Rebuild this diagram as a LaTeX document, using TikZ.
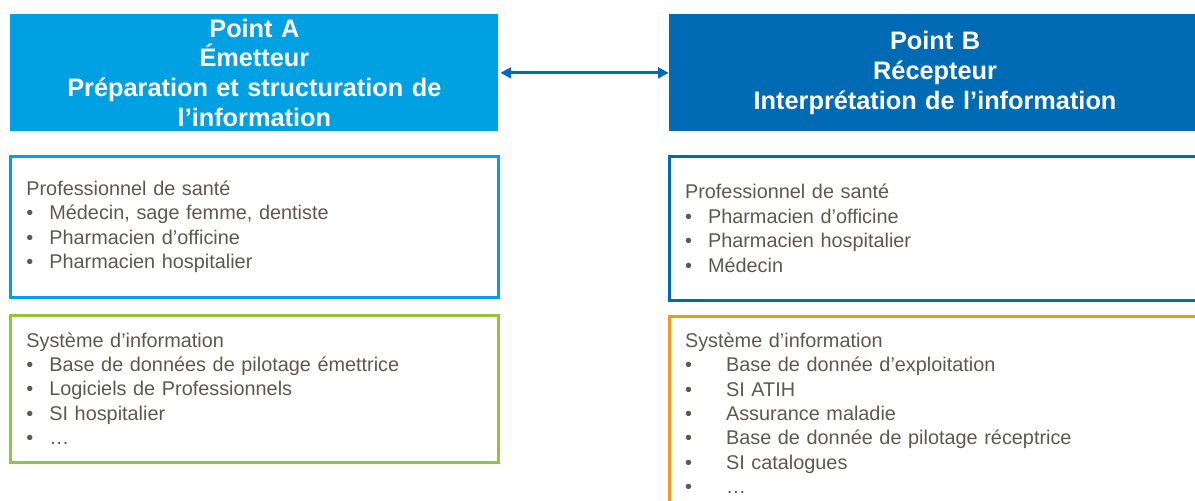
\documentclass[tikz,border=0pt]{standalone}
\usepackage{fontspec}
\setmainfont{Liberation Sans}
\usetikzlibrary{positioning, arrows.meta}

\definecolor{bleuA}{RGB}{0,160,226}
\definecolor{bleuB}{RGB}{0,106,180}
\definecolor{vertSI}{RGB}{146,196,64}
\definecolor{orangeSI}{RGB}{247,150,30}
\definecolor{grisTxt}{RGB}{92,88,84}

\newcommand{\puce}[1]{\makebox[0.46cm][l]{\textbullet}#1}
\newcommand{\pucelarge}[1]{\makebox[0.82cm][l]{\textbullet}#1}

\begin{document}
\begin{tikzpicture}[
        node distance=0.46cm,
        titre/.style={
            rectangle,
            text=white,
            font=\fontsize{14.4}{17}\selectfont\bfseries,
            align=center,
            minimum height=2.34cm,
            inner sep=0pt
        },
        liste/.style={
            rectangle,
            draw,
            line width=1.7pt,
            text=grisTxt,
            font=\fontsize{11.3}{13.9}\selectfont,
            align=left,
            inner xsep=0.32cm,
            inner ysep=0pt
        },
        emetteur/.style={titre, fill=bleuA, text width=9.76cm},
        recepteur/.style={titre, fill=bleuB, text width=10.64cm},
        gauche/.style={liste, text width=9.12cm, minimum height=2.82cm},
        droite/.style={liste, text width=10.0cm, minimum height=2.88cm},
        fleche/.style={{Triangle[length=6pt,width=6pt]}-{Triangle[length=6pt,width=6pt]}, line width=1.6pt, draw=bleuB}
    ]
    \useasboundingbox (0,0) rectangle (23.9,-10.02);
    \clip (0,0) rectangle (23.9,-10.02);

    % --- Titres ---
    \node[emetteur, anchor=north west] (ptA) at (0.2,-0.28) {
        Point A\\
        Émetteur\\
        Préparation et structuration de\\
        l’information
    };

    \node[recepteur, right=3.4cm of ptA] (ptB) {
        Point B\\
        Récepteur\\
        Interprétation de l’information
    };

    % --- Listes ---
    \node[gauche, draw=bleuA, below=of ptA] (santeA) {
        Professionnel de santé\\
        \puce{Médecin, sage femme, dentiste}\\
        \puce{Pharmacien d’officine}\\
        \puce{Pharmacien hospitalier}
    };

    \node[gauche, draw=vertSI, below=0.3cm of santeA, minimum height=2.94cm] (siA) {
        Système d’information\\
        \puce{Base de données de pilotage émettrice}\\
        \puce{Logiciels de Professionnels}\\
        \puce{SI hospitalier}\\
        \puce{…}
    };

    \node[droite, draw=bleuB, below=of ptB] (santeB) {
        Professionnel de santé\\
        \puce{Pharmacien d’officine}\\
        \puce{Pharmacien hospitalier}\\
        \puce{Médecin}
    };

    \node[droite, draw=orangeSI, below=0.26cm of santeB, minimum height=3.88cm] (siB) {
        Système d’information\\
        \pucelarge{Base de donnée d’exploitation}\\
        \pucelarge{SI ATIH}\\
        \pucelarge{Assurance maladie}\\
        \pucelarge{Base de donnée de pilotage réceptrice}\\
        \pucelarge{SI catalogues}\\
        \pucelarge{…}
    };

    % --- Fleche ---
    \draw[fleche, shorten <=1pt] (ptA.east) -- (ptB.west);

\end{tikzpicture}
\end{document}
